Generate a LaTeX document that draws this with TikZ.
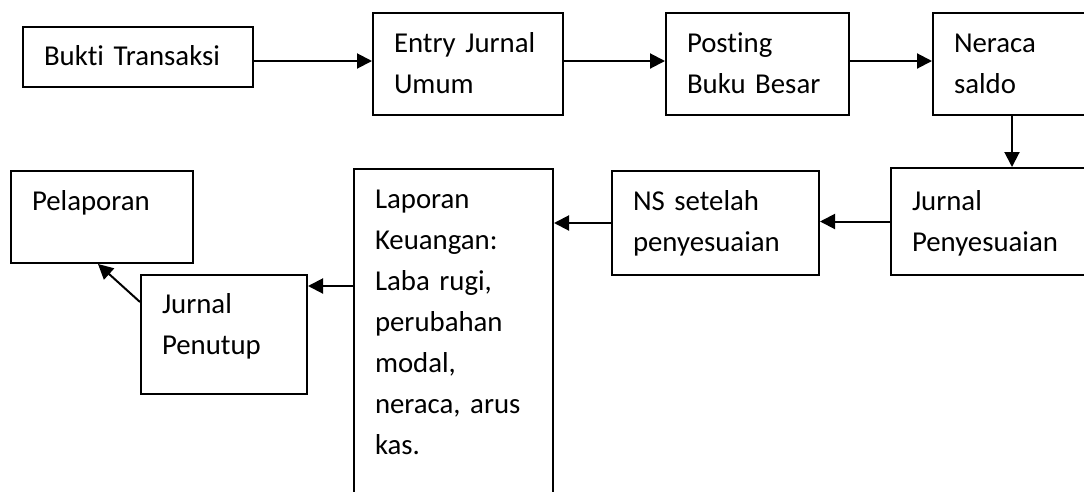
\documentclass[tikz,border=0pt]{standalone}
\usepackage{fontspec}
\setmainfont{Carlito}[Ligatures=NoCommon]
\usetikzlibrary{arrows.meta,positioning}
\tikzset{
  kotak/.style={
    draw,
    line width=2pt,
    anchor=north west,
    align=left,
    inner xsep=21pt,
    inner ysep=0pt,
    font=\fontsize{28.8}{41}\selectfont
  },
  panah/.style={
    -{Triangle[length=15pt,width=15pt]},
    line width=2pt
  }
}

\begin{document}
\begin{tikzpicture}[x=1pt,y=-1pt]
\useasboundingbox (0,0) rectangle (1084,491);
\clip (0,0) rectangle (1084,491);
% baris atas
\node[kotak, text width=188pt, text height=38pt, text depth=22pt] (bukti) at (22,26) {Bukti Transaksi};
\node[kotak, text width=148pt, text height=39pt, text depth=63pt] (entry) at (372,12) {Entry Jurnal\\Umum};
\node[kotak, text width=141pt, text height=39pt, text depth=63pt] (posting) at (665,12) {Posting\\Buku Besar};
\node[kotak, text width=116pt, text height=39pt, text depth=63pt] (neraca) at (932,12) {Neraca\\saldo};
% baris bawah
\node[kotak, text width=178pt, text height=42pt, text depth=65pt] (jpeny) at (890,167) {Jurnal\\Penyesuaian};
\node[kotak, text width=165pt, text height=39pt, text depth=65pt] (ns) at (611,170) {NS setelah\\penyesuaian};
\node[kotak, text width=157pt, text height=39pt, text depth=331pt] (lap) at (353,168) {Laporan\\Keuangan:\\Laba rugi,\\perubahan\\modal,\\neraca, arus\\kas.};
\node[kotak, text width=124pt, text height=38pt, text depth=81pt] (penutup) at (140,274) {Jurnal\\Penutup};
\node[kotak, text width=140pt, text height=39pt, text depth=53pt] (pelaporan) at (10,170) {Pelaporan};

\coordinate (p1) at ([yshift=-12pt]penutup.north east);

\draw[panah] ([yshift=-4pt]bukti.east) -- ([yshift=3pt]entry.west);
\draw[panah] ([yshift=3pt]entry.east) -- ([yshift=3pt]posting.west);
\draw[panah] ([yshift=3pt]posting.east) -- ([yshift=3pt]neraca.west);
\draw[panah] (neraca.south) -- (neraca.south |- jpeny.north);
\draw[panah] (jpeny.west) -- (jpeny.west -| ns.east);
\draw[panah] (ns.west) -- (ns.west -| lap.east);
\draw[panah] (lap.west |- p1) -- (p1);
\draw[panah] ([yshift=-28pt]penutup.north west) -- ([xshift=-4pt]pelaporan.south);
\end{tikzpicture}
\end{document}
